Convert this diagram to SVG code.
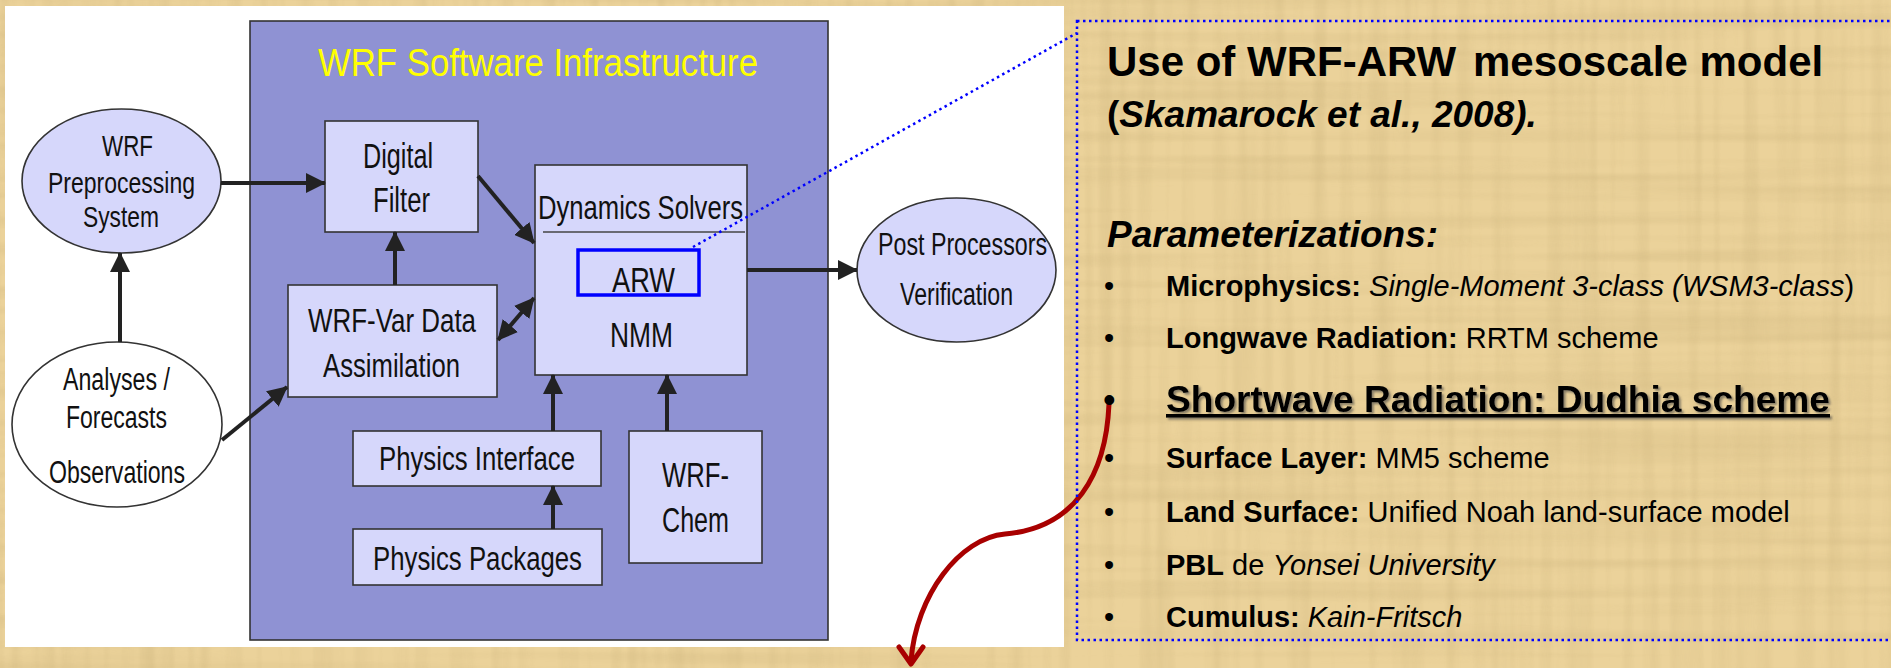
<svg xmlns="http://www.w3.org/2000/svg" width="1891" height="668" viewBox="0 0 1891 668">
<defs>
<style>
.box{fill:#d6d7fb;stroke:#333;stroke-width:1.6}
.lbl{font-family:"Liberation Sans",Arial,sans-serif;fill:#111}
.rt{font-family:"Liberation Sans",Arial,sans-serif;fill:#000}
.s29{font-size:29px}
.s36{font-size:36px}
.s37{font-size:37px}
.s42{font-size:42px}
.b{font-weight:bold}
.i{font-style:italic}
.arr{stroke:#222;stroke-width:4;fill:none}
</style>
<marker id="ah" markerUnits="userSpaceOnUse" markerWidth="20" markerHeight="20" refX="19" refY="10" orient="auto-start-reverse" viewBox="0 0 20 20">
<path d="M0,0 L20,10 L0,20 z" fill="#222"/>
</marker>
<filter id="f1" filterUnits="userSpaceOnUse" x="0" y="0" width="1891" height="668">
<feTurbulence type="fractalNoise" baseFrequency="0.002 0.07" numOctaves="2" seed="3"/>
<feColorMatrix type="matrix" values="0 0 0 0 0.6  0 0 0 0 0.45  0 0 0 0 0.2  2.2 0 0 0 -0.95"/>
</filter>
<filter id="f2" filterUnits="userSpaceOnUse" x="0" y="0" width="1891" height="668">
<feTurbulence type="fractalNoise" baseFrequency="0.07 0.002" numOctaves="2" seed="7"/>
<feColorMatrix type="matrix" values="0 0 0 0 0.6  0 0 0 0 0.45  0 0 0 0 0.2  2.2 0 0 0 -0.95"/>
</filter>
<filter id="sh" x="-5%" y="-20%" width="110%" height="150%">
<feDropShadow dx="2" dy="2" stdDeviation="0.8" flood-color="#444" flood-opacity="0.6"/>
</filter>
</defs>

<rect width="1891" height="668" fill="#ebd29a"/>
<rect width="1891" height="668" filter="url(#f1)" opacity="0.35"/>
<rect width="1891" height="668" filter="url(#f2)" opacity="0.35"/>

<rect x="5" y="6" width="1059" height="641" fill="#fff"/>

<g id="infrastructure">
<rect x="250" y="21" width="578" height="619" fill="#8f92d3" stroke="#333" stroke-width="1.6"/>
<text class="lbl" x="318" y="76" font-size="39" textLength="440" lengthAdjust="spacingAndGlyphs" style="fill:#ffff00">WRF Software Infrastructure</text>
</g>

<g id="wrf-preprocessing">
<ellipse cx="121.5" cy="181" rx="99.5" ry="72" class="box"/>
<text class="lbl" x="102" y="156" font-size="29" textLength="51" lengthAdjust="spacingAndGlyphs">WRF</text>
<text class="lbl" x="48" y="193" font-size="29" textLength="147" lengthAdjust="spacingAndGlyphs">Preprocessing</text>
<text class="lbl" x="83" y="227" font-size="29" textLength="76" lengthAdjust="spacingAndGlyphs">System</text>
</g>

<g id="analyses">
<ellipse cx="117" cy="424.5" rx="105" ry="82.5" fill="#fff" stroke="#333" stroke-width="1.6"/>
<text class="lbl" x="63" y="390" font-size="31" textLength="107" lengthAdjust="spacingAndGlyphs">Analyses /</text>
<text class="lbl" x="66" y="428" font-size="31" textLength="101" lengthAdjust="spacingAndGlyphs">Forecasts</text>
<text class="lbl" x="49" y="483" font-size="31" textLength="136" lengthAdjust="spacingAndGlyphs">Observations</text>
</g>

<g id="digital-filter">
<rect x="325" y="121" width="153" height="111" class="box"/>
<text class="lbl" x="363" y="168" font-size="35" textLength="70" lengthAdjust="spacingAndGlyphs">Digital</text>
<text class="lbl" x="373" y="212" font-size="35" textLength="57" lengthAdjust="spacingAndGlyphs">Filter</text>
</g>

<g id="wrf-var">
<rect x="288" y="285" width="209" height="112" class="box"/>
<text class="lbl" x="308" y="332" font-size="34" textLength="168" lengthAdjust="spacingAndGlyphs">WRF-Var Data</text>
<text class="lbl" x="323" y="377" font-size="34" textLength="137" lengthAdjust="spacingAndGlyphs">Assimilation</text>
</g>

<g id="dynamics-solvers">
<rect x="535" y="165" width="212" height="210" class="box"/>
<text class="lbl" x="538" y="219" font-size="34" textLength="205" lengthAdjust="spacingAndGlyphs">Dynamics Solvers</text>
<line x1="543" y1="232" x2="745" y2="232" stroke="#444" stroke-width="1.6"/>
<text class="lbl" x="610" y="347" font-size="35" textLength="63" lengthAdjust="spacingAndGlyphs">NMM</text>
</g>

<g id="arw">
<rect x="578" y="250" width="121" height="45" fill="none" stroke="#0000ff" stroke-width="3.5"/>
<text class="lbl" x="612" y="292" font-size="35" textLength="63" lengthAdjust="spacingAndGlyphs">ARW</text>
</g>

<g id="physics-interface">
<rect x="353" y="431" width="248" height="55" class="box"/>
<text class="lbl" x="379" y="470" font-size="33" textLength="196" lengthAdjust="spacingAndGlyphs">Physics Interface</text>
</g>

<g id="physics-packages">
<rect x="353" y="529" width="249" height="56" class="box"/>
<text class="lbl" x="373" y="570" font-size="33" textLength="209" lengthAdjust="spacingAndGlyphs">Physics Packages</text>
</g>

<g id="wrf-chem">
<rect x="629" y="431" width="133" height="132" class="box"/>
<text class="lbl" x="662" y="487" font-size="35" textLength="67" lengthAdjust="spacingAndGlyphs">WRF-</text>
<text class="lbl" x="662" y="532" font-size="35" textLength="67" lengthAdjust="spacingAndGlyphs">Chem</text>
</g>

<g id="post-processors">
<ellipse cx="956.5" cy="270" rx="99.5" ry="72" class="box"/>
<text class="lbl" x="878" y="255" font-size="31" textLength="169" lengthAdjust="spacingAndGlyphs">Post Processors</text>
<text class="lbl" x="900" y="305" font-size="31" textLength="113" lengthAdjust="spacingAndGlyphs">Verification</text>
</g>

<g id="connectors">
<path class="arr" d="M221,183 L325,183" marker-end="url(#ah)"/>
<path class="arr" d="M120,342 L120,253" marker-end="url(#ah)"/>
<path class="arr" d="M395,285 L395,232" marker-end="url(#ah)"/>
<path class="arr" d="M478,176 L534,243" marker-end="url(#ah)"/>
<path class="arr" d="M222,440 L287,387" marker-end="url(#ah)"/>
<path class="arr" d="M498,340 L534,298" marker-start="url(#ah)" marker-end="url(#ah)"/>
<path class="arr" d="M747,270 L857,270" marker-end="url(#ah)"/>
<path class="arr" d="M553,431 L553,375" marker-end="url(#ah)"/>
<path class="arr" d="M553,529 L553,486" marker-end="url(#ah)"/>
<path class="arr" d="M667,431 L667,375" marker-end="url(#ah)"/>
<path d="M693,247 L1077,33" stroke="#0000ff" stroke-width="2.5" stroke-dasharray="2.5 3.5" fill="none"/>
<path d="M1109,404 C1106,475 1075,528 1005,534 C960,538 916,595 911,661" stroke="#a80000" stroke-width="5" fill="none" stroke-linecap="round"/>
<path d="M899,647 L911,664 L923,647" stroke="#a80000" stroke-width="5" fill="none" stroke-linecap="round" stroke-linejoin="round"/>
</g>

<g id="text-panel">
<rect x="1077" y="21" width="840" height="619" fill="none" stroke="#0000ff" stroke-width="2.5" stroke-dasharray="2.5 3.5"/>
<text class="rt b s42" x="1107" y="76">Use of WRF-ARW</text>
<text class="rt b s42" x="1473" y="76">mesoscale model</text>
<text class="rt b s37" x="1107" y="127">(<tspan class="i">Skamarock et al., 2008).</tspan></text>
<text class="rt b i s37" x="1107" y="247">Parameterizations:</text>
<text class="rt s29" x="1104" y="296">•</text>
<text class="rt s29" x="1166" y="296"><tspan class="b">Microphysics:</tspan><tspan class="i"> Single-Moment 3-class (WSM3-class</tspan>)</text>
<text class="rt s29" x="1104" y="348">•</text>
<text class="rt s29" x="1166" y="348"><tspan class="b">Longwave Radiation:</tspan> RRTM scheme</text>
<text class="rt s36" x="1103" y="412">•</text>
<text class="rt b s36" x="1166" y="412" text-decoration="underline" filter="url(#sh)" textLength="664" lengthAdjust="spacingAndGlyphs">Shortwave Radiation: Dudhia scheme</text>
<text class="rt s29" x="1104" y="468">•</text>
<text class="rt s29" x="1166" y="468"><tspan class="b">Surface Layer:</tspan> MM5 scheme</text>
<text class="rt s29" x="1104" y="522">•</text>
<text class="rt s29" x="1166" y="522"><tspan class="b">Land Surface:</tspan> Unified Noah land-surface model</text>
<text class="rt s29" x="1104" y="575">•</text>
<text class="rt s29" x="1166" y="575"><tspan class="b">PBL</tspan> de <tspan class="i">Yonsei University</tspan></text>
<text class="rt s29" x="1104" y="627">•</text>
<text class="rt s29" x="1166" y="627"><tspan class="b">Cumulus:</tspan><tspan class="i"> Kain-Fritsch</tspan></text>
</g>
</svg>
